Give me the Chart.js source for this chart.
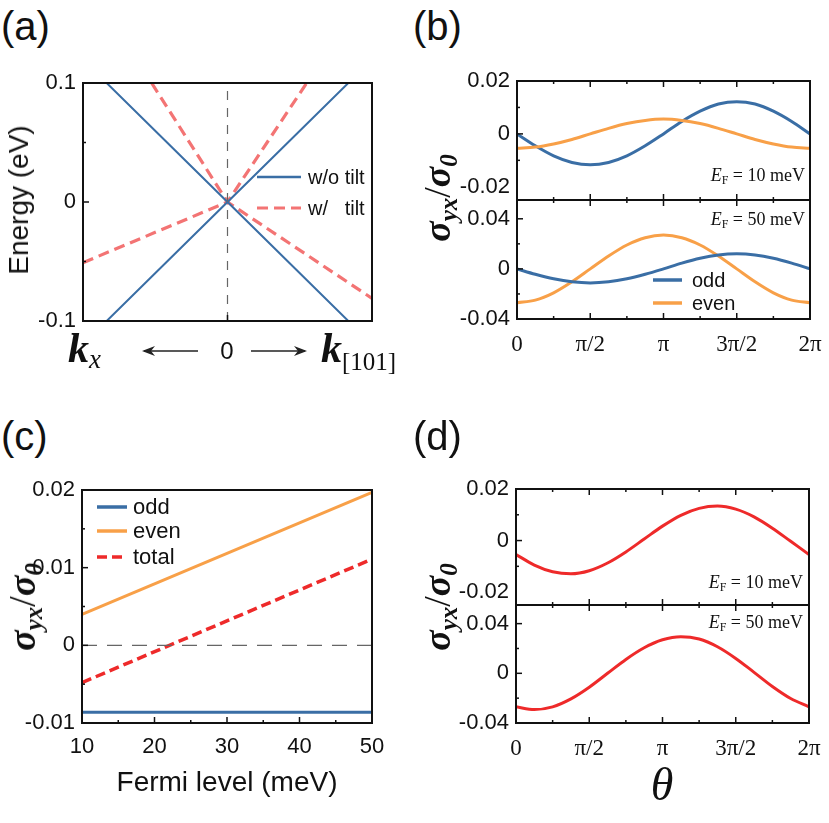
<!DOCTYPE html>
<html>
<head>
<meta charset="utf-8">
<script src="https://cdn.jsdelivr.net/npm/chart.js@4.4.0/dist/chart.umd.min.js"></script>
<style>
  body { margin: 0; background: #fff; width: 829px; height: 823px; position: relative; overflow: hidden;
         font-family: "Liberation Sans", Arial, sans-serif; color: #111; }
  canvas { position: absolute; }
  .t { position: absolute; white-space: nowrap; line-height: 1; }
  .panel { font-size: 40px; }
  .c { transform: translate(-50%, -50%); }
  .rot { transform: translate(-50%, -50%) rotate(-90deg); }
  .sig { font-family: "Liberation Serif", serif; font-style: italic; font-weight: bold; font-size: 38px; }
  .sig .s { font-size: 25px; position: relative; top: 7px; }
  .sig .sl { font-weight: normal; font-style: normal; }
  .ef { font-family: "Liberation Serif", serif; font-size: 18px; }
  .ef .s { font-size: 12px; position: relative; top: 3px; }
  .kk { font-family: "Liberation Serif", serif; font-size: 42px; }
</style>
</head>
<body>
<canvas id="chartA"></canvas>
<canvas id="chartB10"></canvas>
<canvas id="chartB50"></canvas>
<canvas id="chartC"></canvas>
<canvas id="chartD10"></canvas>
<canvas id="chartD50"></canvas>

<div class="t panel" style="left:1px;top:6px">(a)</div>
<div class="t panel" style="left:413px;top:6px">(b)</div>
<div class="t panel" style="left:1px;top:416px">(c)</div>
<div class="t panel" style="left:413px;top:416px">(d)</div>

<div class="t rot" style="left:19px;top:200px;font-size:28px">Energy (eV)</div>
<div class="t kk" style="left:68px;top:327px"><b><i>k</i></b><span style="font-size:27px;font-style:italic;position:relative;top:6px">x</span></div>
<svg style="position:absolute;left:140px;top:343px" width="60" height="16">
  <line x1="4" y1="8" x2="58" y2="8" stroke="#222" stroke-width="1.6"/>
  <polygon points="2,8 15,3 11,8 15,13" fill="#222"/>
</svg>
<div class="t c" style="left:227px;top:351px;font-size:24px">0</div>
<svg style="position:absolute;left:249px;top:343px" width="60" height="16">
  <line x1="2" y1="8" x2="56" y2="8" stroke="#222" stroke-width="1.6"/>
  <polygon points="58,8 45,3 49,8 45,13" fill="#222"/>
</svg>
<div class="t kk" style="left:321px;top:327px"><b><i>k</i></b><span style="font-size:25px;position:relative;top:8px">[101]</span></div>

<div class="t rot sig" style="left:437px;top:198px">σ<span class="s">yx</span><span class="sl">/</span>σ<span class="s">0</span></div>
<div class="t ef" style="right:24px;top:166px"><i>E</i><span class="s">F</span> = 10 meV</div>
<div class="t ef" style="right:24px;top:210px"><i>E</i><span class="s">F</span> = 50 meV</div>

<div class="t rot sig" style="left:22px;top:607px">σ<span class="s">yx</span><span class="sl">/</span>σ<span class="s">0</span></div>
<div class="t c" style="left:227px;top:782px;font-size:28px">Fermi level (meV)</div>

<div class="t rot sig" style="left:437px;top:607px">σ<span class="s">yx</span><span class="sl">/</span>σ<span class="s">0</span></div>
<div class="t ef" style="right:26px;top:573px"><i>E</i><span class="s">F</span> = 10 meV</div>
<div class="t ef" style="right:26px;top:613px"><i>E</i><span class="s">F</span> = 50 meV</div>
<div class="t c" style="left:662px;top:785px;font-family:'Liberation Serif',serif;font-style:italic;font-size:46px">θ</div>

<script>
// (a) band dispersion, k in arbitrary units (-1 .. 1), energy in eV
const kNoTilt = [-0.836, 0, 0.836];
const eNoTiltUp = [0.1, 0, 0.1];
const eNoTiltDown = [-0.1, 0, -0.1];
const kTiltUp = [-0.525, 0, 0.548];
const eTiltUp = [0.1, 0, 0.1];
const kTiltDown = [-1, 0, 1];
const eTiltDown = [-0.051, 0, -0.081];
const kZero = [0, 0];
const eZero = [-0.1, 0.1];
const energyTicks = [-0.1, 0, 0.1];

// (b), (d) angle theta in units of pi
const theta = [0, 0.125, 0.25, 0.375, 0.5, 0.625, 0.75, 0.875, 1, 1.125, 1.25, 1.375, 1.5, 1.625, 1.75, 1.875, 2];
const thetaTicks = [0, 0.5, 1, 1.5, 2];
const thetaLabels = ["0", "π/2", "π", "3π/2", "2π"];
const odd10 = [0, -0.0045, -0.0083, -0.0108, -0.0117, -0.0108, -0.0083, -0.0045, 0, 0.0047, 0.0086, 0.0113, 0.0122, 0.0113, 0.0086, 0.0047, 0];
const even10 = [-0.0054, -0.005, -0.0038, -0.0021, 0, 0.0021, 0.0039, 0.0051, 0.0056, 0.0051, 0.0039, 0.0021, 0, -0.0021, -0.0038, -0.005, -0.0054];
const odd50 = [0, -0.0043, -0.0079, -0.0103, -0.0112, -0.0103, -0.0079, -0.0043, 0, 0.0046, 0.0085, 0.0111, 0.012, 0.0111, 0.0085, 0.0046, 0];
const even50 = [-0.027, -0.0249, -0.0191, -0.0103, 0, 0.0103, 0.0191, 0.0249, 0.027, 0.0249, 0.0191, 0.0103, 0, -0.0103, -0.0191, -0.0249, -0.027];
const total10 = [-0.0054, -0.0095, -0.0121, -0.0129, -0.0117, -0.0087, -0.0044, 0.0006, 0.0056, 0.0098, 0.0125, 0.0134, 0.0122, 0.0092, 0.0048, -0.0003, -0.0054];
const total50 = [-0.027, -0.0292, -0.027, -0.0206, -0.0112, 0, 0.0112, 0.0206, 0.027, 0.0295, 0.0276, 0.0214, 0.012, 0.0008, -0.0106, -0.0203, -0.027];
const sigmaTicks10 = [-0.02, 0, 0.02];
const sigmaTicks50 = [-0.04, 0, 0.04];

// (c) versus Fermi level (meV)
const fermi = [10, 50];
const oddVsFermi = [-0.0086, -0.0086];
const evenVsFermi = [0.004, 0.0197];
const totalVsFermi = [-0.0048, 0.0111];
const zeroVsFermi = [0, 0];
const fermiTicks = [10, 20, 30, 40, 50];
const sigmaTicksC = [-0.01, 0, 0.01, 0.02];

const BLUE = "#3a6ea5";
const ORANGE = "#f8a048";
const RED = "#ee2a2a";
const SALMON = "#f37474";
const GREY = "#666";
const SANS = "'Liberation Sans', Arial, sans-serif";
const SERIF = "'Liberation Serif', serif";

const zip = (xs, ys) => xs.map((x, i) => ({ x: x, y: ys[i] }));

function line(xs, ys, color, width, dash, smooth) {
  return {
    data: zip(xs, ys),
    showLine: true,
    borderColor: color,
    borderWidth: width,
    borderDash: dash || [],
    pointRadius: 0,
    cubicInterpolationMode: smooth ? "monotone" : "default",
    tension: 0,
  };
}

const fmt = v => (v === 0 ? "0" : String(+v.toFixed(3)));

// frame, inward ticks and in-plot legend
const framePlugin = {
  id: "frame",
  afterDatasetsDraw(chart, args, o) {
    const { ctx, chartArea: a, scales } = chart;
    const x = scales.x, y = scales.y;
    ctx.save();
    ctx.strokeStyle = "#111";
    ctx.lineWidth = 1.5;
    const seg = (x1, y1, x2, y2) => { ctx.beginPath(); ctx.moveTo(x1, y1); ctx.lineTo(x2, y2); ctx.stroke(); };
    const xt = (vals, len) => (vals || []).forEach(v => {
      const p = x.getPixelForValue(v);
      if (o.xBottom) seg(p, a.bottom, p, a.bottom - len);
      if (o.xTop) seg(p, a.top, p, a.top + len);
    });
    const yt = (vals, len) => (vals || []).forEach(v => {
      const p = y.getPixelForValue(v);
      seg(a.left, p, a.left + len, p);
    });
    xt(o.xMajor, 6); xt(o.xMinor, 3);
    yt(o.yMajor, 6); yt(o.yMinor, 3);

    (o.legend || []).forEach(e => {
      ctx.strokeStyle = e.color;
      ctx.lineWidth = e.width;
      ctx.setLineDash(e.dash || []);
      seg(a.left + e.x1, a.top + e.y, a.left + e.x2, a.top + e.y);
      ctx.setLineDash([]);
      ctx.fillStyle = "#111";
      ctx.font = e.font;
      ctx.textBaseline = "middle";
      ctx.fillText(e.text, a.left + e.tx, a.top + e.y + 1);
    });

    ctx.strokeStyle = "#111";
    ctx.lineWidth = 2;
    ctx.strokeRect(a.left, a.top, a.right - a.left, a.bottom - a.top);
    ctx.restore();
  },
};
Chart.register(framePlugin);

function panel(id, box, o) {
  const YW = 80, PT = 32, PR = 30;
  const XH = o.xShow ? 46 : 0;
  const PB = o.xShow ? 0 : 32;
  const cv = document.getElementById(id);
  const w = box.w + YW + PR, h = box.h + PT + XH + PB;
  cv.width = w; cv.height = h;
  cv.style.left = (box.x - YW) + "px";
  cv.style.top = (box.y - PT) + "px";
  cv.style.width = w + "px";
  cv.style.height = h + "px";
  const chart = new Chart(cv, {
    type: "scatter",
    data: { datasets: o.datasets },
    options: {
      responsive: false,
      animation: false,
      events: [],
      layout: { padding: { top: PT, right: PR, bottom: PB, left: 0 } },
      plugins: { legend: { display: false }, tooltip: { enabled: false }, frame: o.frame },
      scales: {
        x: {
          type: "linear", min: o.xMin, max: o.xMax, display: !!o.xShow,
          grid: { display: false, drawTicks: false }, border: { display: false },
          afterBuildTicks: s => { s.ticks = o.xTicks.map(v => ({ value: v })); },
          afterFit: s => { s.height = XH; },
          ticks: {
            autoSkip: false, maxRotation: 0, padding: o.xPad || 10, color: "#111",
            font: o.xFont, callback: o.xLabel,
          },
        },
        y: {
          type: "linear", min: o.yMin, max: o.yMax,
          grid: { display: false, drawTicks: false }, border: { display: false },
          afterBuildTicks: s => { s.ticks = o.yTicks.map(v => ({ value: v })); },
          afterFit: s => { s.width = YW; },
          ticks: { autoSkip: false, padding: 7, color: "#111", font: { family: SANS, size: 22 }, callback: fmt },
        },
      },
    },
  });
  // keep the plot frame exactly on the requested box
  const ca = chart.chartArea;
  cv.style.left = (box.x - ca.left) + "px";
  cv.style.top = (box.y - ca.top) + "px";
  return chart;
}

// (a)
panel("chartA", { x: 83, y: 83, w: 289, h: 238 }, {
  xMin: -1, xMax: 1, xTicks: [0], yMin: -0.1, yMax: 0.1, yTicks: energyTicks,
  datasets: [
    line(kZero, eZero, GREY, 1.2, [9, 8]),
    line(kNoTilt, eNoTiltUp, BLUE, 2),
    line(kNoTilt, eNoTiltDown, BLUE, 2),
    line(kTiltUp, eTiltUp, SALMON, 3.2, [11, 6]),
    line(kTiltDown, eTiltDown, SALMON, 3.2, [11, 6]),
  ],
  frame: {
    xBottom: true, xMajor: [0], yMajor: [0], yMinor: [-0.05, 0.05],
    legend: [
      { text: "w/o tilt", color: BLUE, width: 2.5, x1: 174, x2: 218, y: 94, tx: 225, font: "20px " + SANS },
      { text: "w/\u00a0\u00a0\u00a0tilt", color: SALMON, width: 3.2, dash: [11, 6], x1: 174, x2: 218, y: 125, tx: 225, font: "20px " + SANS },
    ],
  },
});

const thetaFont = { family: SERIF, size: 23 };
const thetaLabel = v => thetaLabels[thetaTicks.indexOf(v)];
const thetaFrame = (yMajor, yMinor, extra) => Object.assign({
  xBottom: true, xTop: true, xMajor: [0.5, 1, 1.5], xMinor: [0.25, 0.75, 1.25, 1.75], yMajor: yMajor, yMinor: yMinor,
}, extra || {});

// (b)
panel("chartB10", { x: 517, y: 81, w: 293, h: 119 }, {
  xMin: 0, xMax: 2, xTicks: thetaTicks, yMin: -0.025, yMax: 0.02, yTicks: sigmaTicks10,
  datasets: [
    line(theta, even10, ORANGE, 3, null, true),
    line(theta, odd10, BLUE, 3, null, true),
  ],
  frame: thetaFrame([0], [-0.01, 0.01]),
});
panel("chartB50", { x: 517, y: 200, w: 293, h: 119 }, {
  xShow: true, xMin: 0, xMax: 2, xTicks: thetaTicks, xFont: thetaFont, xLabel: thetaLabel, xPad: 12,
  yMin: -0.04, yMax: 0.055, yTicks: sigmaTicks50,
  datasets: [
    line(theta, odd50, BLUE, 3, null, true),
    line(theta, even50, ORANGE, 3, null, true),
  ],
  frame: thetaFrame([0.04, 0], [-0.02, 0.02], {
    legend: [
      { text: "odd", color: BLUE, width: 3.5, x1: 136, x2: 165, y: 80, tx: 175, font: "20px " + SANS },
      { text: "even", color: ORANGE, width: 3.5, x1: 136, x2: 165, y: 103, tx: 175, font: "20px " + SANS },
    ],
  }),
});

// (c)
panel("chartC", { x: 82, y: 490, w: 290, h: 233 }, {
  xShow: true, xMin: 10, xMax: 50, xTicks: fermiTicks, xFont: { family: SANS, size: 22 }, xLabel: fmt, xPad: 11,
  yMin: -0.01, yMax: 0.02, yTicks: sigmaTicksC,
  datasets: [
    line(fermi, zeroVsFermi, GREY, 1.2, [15, 10]),
    line(fermi, oddVsFermi, BLUE, 3),
    line(fermi, evenVsFermi, ORANGE, 3),
    line(fermi, totalVsFermi, RED, 3.5, [10, 5]),
  ],
  frame: {
    xBottom: true, xMajor: [20, 30, 40], xMinor: [15, 25, 35, 45], yMajor: [0, 0.01], yMinor: [-0.005, 0.005, 0.015],
    legend: [
      { text: "odd", color: BLUE, width: 3.5, x1: 15, x2: 45, y: 17, tx: 51, font: "22px " + SANS },
      { text: "even", color: ORANGE, width: 3.5, x1: 15, x2: 45, y: 41, tx: 51, font: "22px " + SANS },
      { text: "total", color: RED, width: 3.5, dash: [10, 5], x1: 15, x2: 45, y: 67, tx: 51, font: "22px " + SANS },
    ],
  },
});

// (d)
panel("chartD10", { x: 516, y: 489, w: 293, h: 116 }, {
  xMin: 0, xMax: 2, xTicks: thetaTicks, yMin: -0.025, yMax: 0.02, yTicks: sigmaTicks10,
  datasets: [line(theta, total10, RED, 3, null, true)],
  frame: thetaFrame([0], [-0.01, 0.01]),
});
panel("chartD50", { x: 516, y: 605, w: 293, h: 118 }, {
  xShow: true, xMin: 0, xMax: 2, xTicks: thetaTicks, xFont: thetaFont, xLabel: thetaLabel, xPad: 12,
  yMin: -0.04, yMax: 0.055, yTicks: sigmaTicks50,
  datasets: [line(theta, total50, RED, 3, null, true)],
  frame: thetaFrame([0.04, 0], [-0.02, 0.02]),
});
</script>
</body>
</html>
